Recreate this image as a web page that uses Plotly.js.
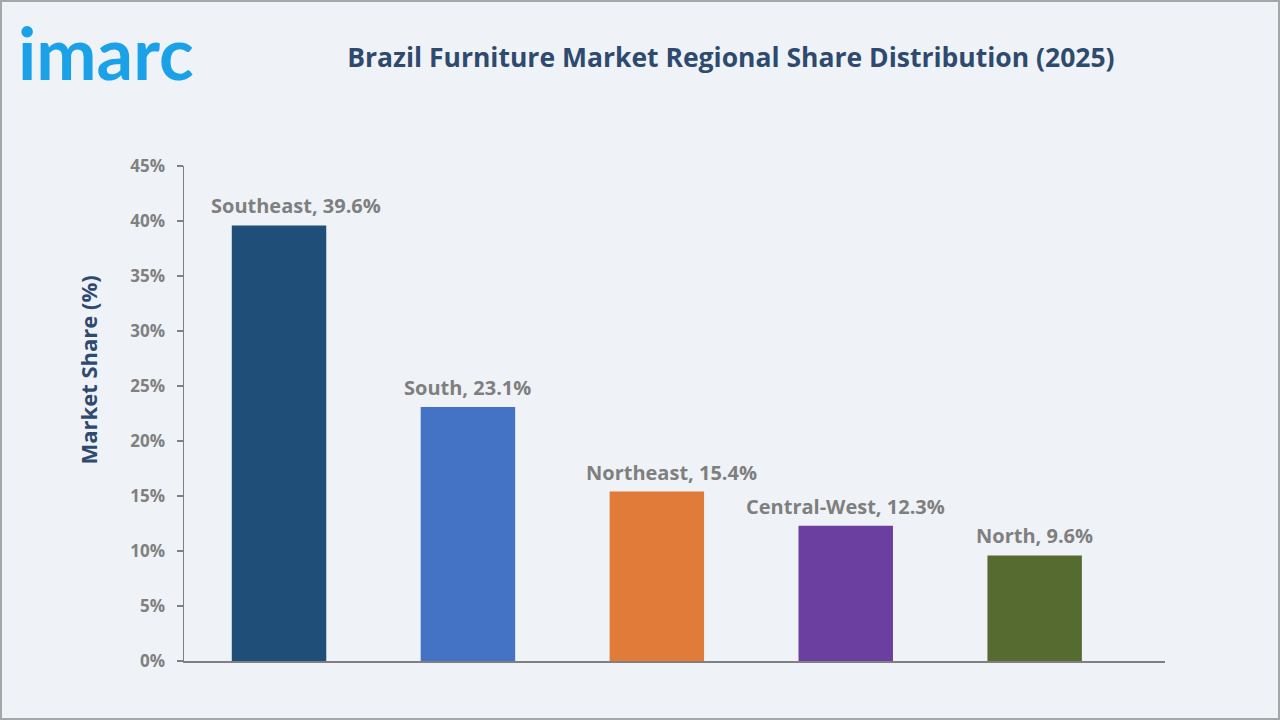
<!DOCTYPE html>
<html><head><meta charset="utf-8">
<script src="https://cdn.plot.ly/plotly-3.0.1.min.js"></script>
<style>html,body{margin:0;padding:0;background:#eff3f8;}#c{width:1280px;height:720px;}
#frame{position:absolute;left:0;top:0;width:1276px;height:716px;border:2px solid #a6a6a6;pointer-events:none;}</style>
</head><body><div id="c"></div><div id="frame"></div>
<script>
const regions = ["Southeast", "South", "Northeast", "Central-West", "North"];
const shares = [39.6, 23.1, 15.4, 12.3, 9.6];
const barColors = ["#1f4e79", "#4472c4", "#e07b39", "#6b3fa0", "#556b2f"];
const tickVals = [0, 5, 10, 15, 20, 25, 30, 35, 40, 45];
const tickText = tickVals.map(v => v + "%");

// label horizontal nudges (style only), in pixels
const labelNudge = [17, 0, 15, 0, 0];

const trace = {
  type: "bar",
  x: regions.map((r, i) => i),
  y: shares,
  width: 0.5,
  marker: {color: barColors},
  hoverinfo: "none"
};

const labelAnns = regions.map((r, i) => ({
  text: r + ", " + shares[i] + "%", x: i, y: shares[i], xref: "x", yref: "y",
  xanchor: "center", yanchor: "bottom", xshift: labelNudge[i], yshift: 4, showarrow: false,
  font: {family: "Open Sans, sans-serif", size: 20, color: "#7f7f7f", weight: 700}
}));

const layout = {
  width: 1280, height: 720,
  paper_bgcolor: "#eff3f8", plot_bgcolor: "#eff3f8",
  margin: {l: 184, r: 115, t: 166, b: 59},
  showlegend: false,
  title: {text: "Brazil Furniture Market Regional Share Distribution (2025)",
    font: {family: "Open Sans, sans-serif", size: 26.5, color: "#2e4a6e", weight: 700},
    x: 0.571, xanchor: "center", y: 0.92, yanchor: "middle"},
  xaxis: {range: [-0.503, 4.69], showticklabels: false, ticks: "", showgrid: false,
    zeroline: false, showline: true, linecolor: "#808080", linewidth: 1.5, fixedrange: true},
  yaxis: {range: [0, 45], tickvals: tickVals, ticktext: tickText, showgrid: false,
    zeroline: false, showline: true, linecolor: "#808080", linewidth: 1.5,
    ticks: "outside", ticklen: 6, tickcolor: "#808080", tickwidth: 1.5, ticklabelstandoff: 8,
    tickfont: {family: "Open Sans, sans-serif", size: 17, color: "#808080", weight: 700}},
  annotations: [{
    text: "imarc", xref: "paper", yref: "paper", x: -0.171, y: 1.23, xanchor: "left", yanchor: "middle",
    showarrow: false, font: {family: "Lato, sans-serif", size: 72, color: "#1ba1e8", weight: 700}
  }, {
    text: "Market Share (%)", xref: "paper", yref: "paper", x: -0.0978, y: 0.587,
    xanchor: "center", yanchor: "middle", textangle: -90, showarrow: false,
    font: {family: "Open Sans, sans-serif", size: 22, color: "#2e4a6e", weight: 700}
  }].concat(labelAnns)
};

Plotly.newPlot("c", [trace], layout, {displayModeBar: false, staticPlot: true});
</script></body></html>
